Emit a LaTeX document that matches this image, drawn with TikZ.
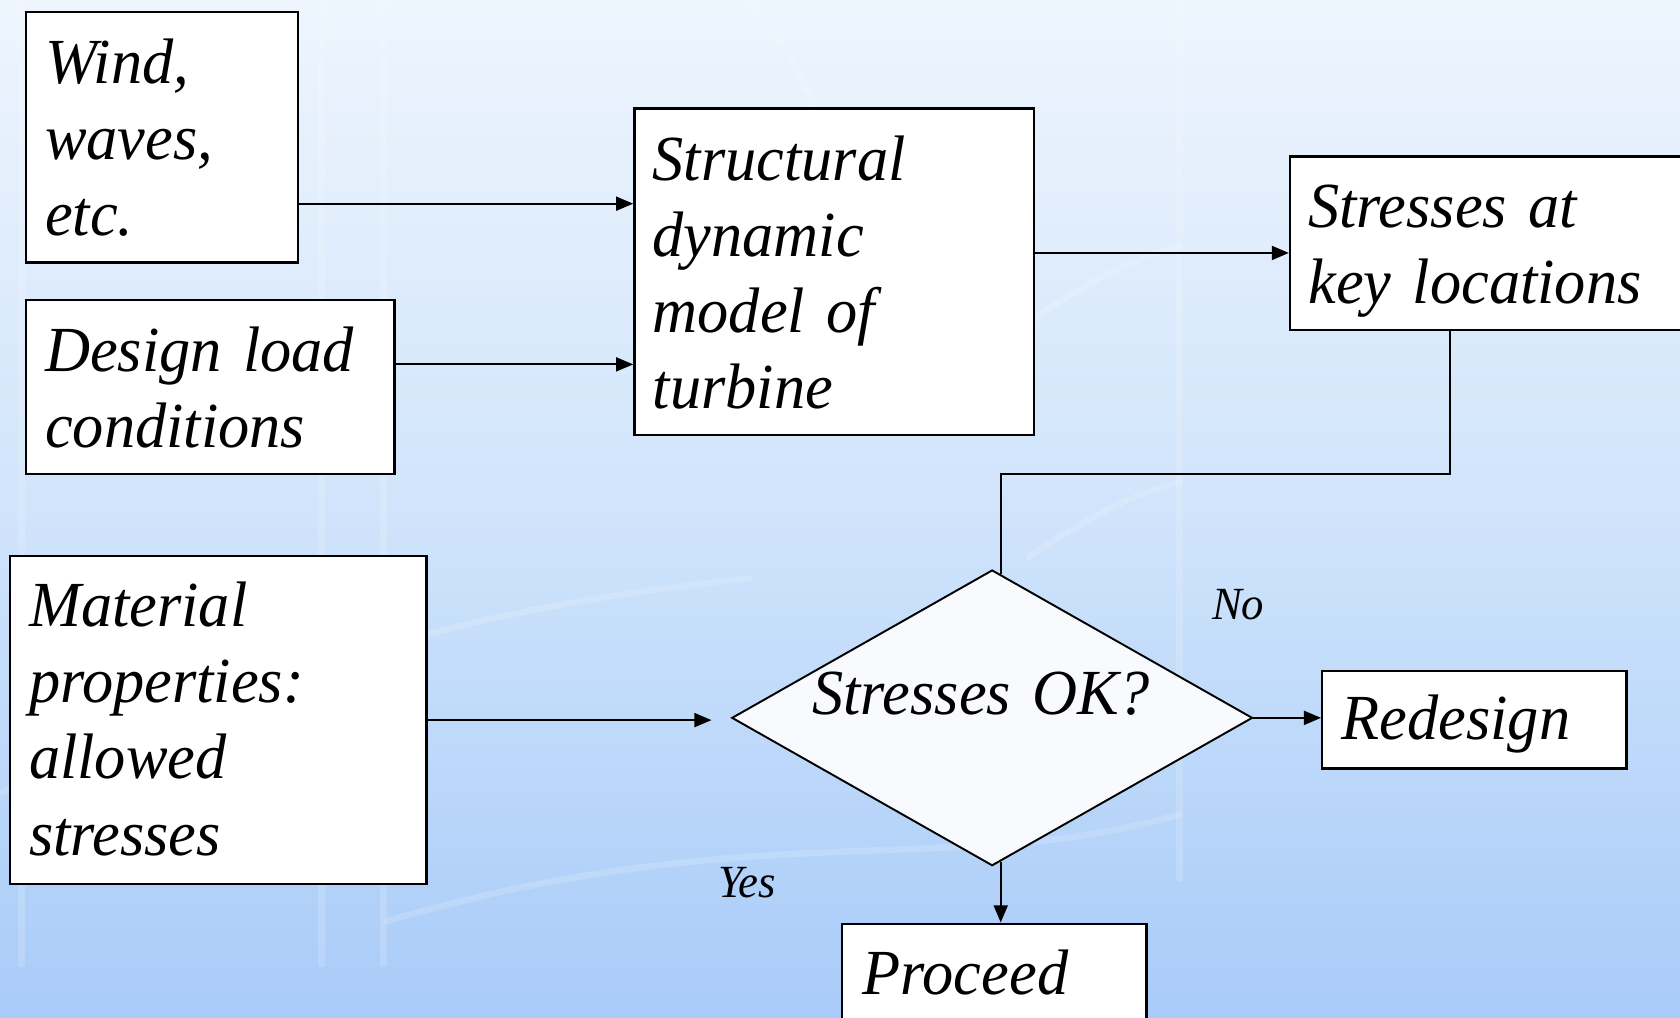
\documentclass[tikz,border=0pt]{standalone}
\usepackage{fontspec}
\setmainfont{Liberation Serif}[FakeStretch=0.97]
\usetikzlibrary{shapes.geometric,arrows.meta,calc}
\definecolor{bgtop}{HTML}{EEF5FD}
\definecolor{bgmid}{HTML}{D0E4FB}
\definecolor{bgbot}{HTML}{A8CBF8}
\definecolor{dfill}{HTML}{F8FAFD}
\DeclareRobustCommand\boxtextfont{\fontsize{60}{71}\selectfont\itshape\spaceskip=10pt\relax}
\begin{document}
\begin{tikzpicture}[x=1pt,y=-1pt,
  box/.style={draw=black, line width=2.2pt, fill=white, inner sep=0pt, anchor=north west},
  txt/.style={anchor=base west, inner sep=0pt, align=left, text width=#1,
    font=\boxtextfont},
  txt/.default=400pt,
  lbl/.style={anchor=base west, inner sep=0pt, font=\fontsize{43}{50}\selectfont\itshape},
  conn/.style={line width=2pt, draw=black},
  arr/.style={conn, -{Triangle[length=16pt,width=13pt]}},
  wmark/.style={draw=white, line width=6pt, opacity=0.16, line cap=round},
]
\useasboundingbox (0,0) rectangle (1568,950);
\clip (0,0) rectangle (1568,950);
\fill[top color=bgtop, bottom color=bgbot, middle color=bgmid] (0,0) rectangle (1568,950);

% faint background watermark
\draw[wmark] (20,0) -- (20,900);
\draw[wmark] (300,0) -- (300,900);
\draw[wmark] (358,0) -- (358,900);
\draw[wmark] (1101,0) -- (1101,820);
\draw[wmark] (0,740) .. controls (300,600) and (500,560) .. (700,540);
\draw[wmark] (360,860) .. controls (700,760) and (900,820) .. (1101,760);
\draw[wmark] (960,300) .. controls (1020,260) and (1060,240) .. (1101,230);
\draw[wmark] (960,520) .. controls (1020,480) and (1060,460) .. (1101,450);
\draw[wmark] (700,0) .. controls (780,100) and (800,200) .. (760,330);

% boxes
\node[box, minimum width=254pt, minimum height=234pt] (wind) at (23,10) {};
\node[box, minimum width=344pt, minimum height=162pt] (design) at (23,279) {};
\node[box, minimum width=373pt, minimum height=305pt] (struct) at (591,100) {};
\node[box, minimum width=420pt, minimum height=162pt] (stress) at (1203,145) {};
\node[box, minimum width=389pt, minimum height=306pt] (mat) at (8,518) {};
\node[box, minimum width=284pt, minimum height=91pt] (redesign) at (1233,625) {};
\node[box, minimum width=284pt, minimum height=140pt] (proceed) at (785,861) {};
\node[diamond, draw=black, line width=1.8pt, fill=dfill, inner sep=0pt, aspect=1.76,
      minimum width=486pt, minimum height=276pt] (ok) at (926,670) {};

% texts
\node[txt] (windt) at (42,78) {Wind,\\waves,\\etc.};
\node[txt] (designt) at (42,347) {Design load\\conditions};
\node[txt] (structt) at (609,168) {Structural\\dynamic\\model of\\turbine};
\node[txt] (stresst) at (1221,212) {Stresses at\\key locations};
\node[txt] (matt) at (27,585) {Material\\properties:\\allowed\\stresses};
\node[txt] (redesignt) at (1252,690) {Redesign};
\node[txt] (proceedt) at (805,928) {Proceed};
\node[txt] (okt) at (758,667) {Stresses OK?};
\node[lbl] (no) at (1131,578) {No};
\node[lbl] (yes) at (670,838) {Yes};

% connectors
\draw[arr] ([yshift=-62pt]wind.east) coordinate (a) -- (a -| struct.west);
\draw[arr] ([yshift=21pt]design.east) coordinate (b) -- (b -| struct.west);
\draw[arr] ([yshift=17.5pt]struct.east) coordinate (c) -- (c -| stress.west);
\draw[conn] ([xshift=150pt]stress.south west) |- ([xshift=8pt,yshift=89pt]ok.north)
  -- ([xshift=8pt,yshift=-4.5pt]ok.north);
\draw[arr] (mat.east) -- ([xshift=-18pt]ok.west |- mat.east);
\draw[arr] (ok.east) -- (ok.east -| redesign.west);
\draw[arr] ([xshift=8pt,yshift=4.5pt]ok.south) coordinate (d) -- (d |- proceed.north);
\end{tikzpicture}
\end{document}
